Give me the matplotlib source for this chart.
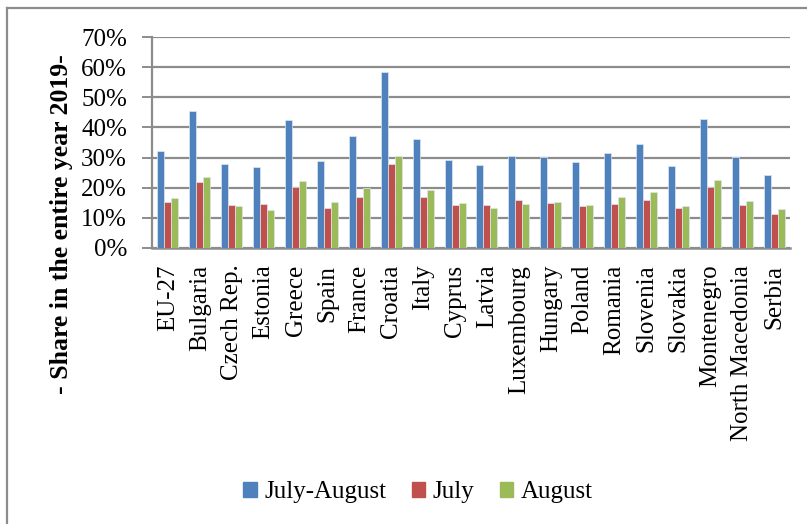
import numpy as np
import matplotlib
matplotlib.use("Agg")
import matplotlib.pyplot as plt
from matplotlib.lines import Line2D
from matplotlib.ticker import PercentFormatter

plt.rcParams['font.family'] = ['Liberation Serif', 'DejaVu Serif']

countries = ["EU-27", "Bulgaria", "Czech Rep.", "Estonia", "Greece", "Spain",
             "France", "Croatia", "Italy", "Cyprus", "Latvia", "Luxembourg",
             "Hungary", "Poland", "Romania", "Slovenia", "Slovakia",
             "Montenegro", "North Macedonia", "Serbia"]
july_august = [0.321, 0.455, 0.280, 0.270, 0.425, 0.288, 0.371, 0.583, 0.362,
               0.291, 0.277, 0.306, 0.301, 0.284, 0.316, 0.346, 0.271, 0.429,
               0.301, 0.241]
july = [0.153, 0.219, 0.142, 0.145, 0.204, 0.134, 0.170, 0.280, 0.170,
        0.144, 0.142, 0.158, 0.148, 0.140, 0.147, 0.160, 0.132, 0.202,
        0.144, 0.114]
august = [0.166, 0.236, 0.139, 0.126, 0.221, 0.153, 0.199, 0.304, 0.192,
          0.148, 0.134, 0.145, 0.153, 0.144, 0.168, 0.185, 0.138, 0.227,
          0.156, 0.128]
series = ["July-August", "July", "August"]
colors = ["#4F81BD", "#C0504D", "#9BBB59"]

W, H = 807, 524
fig = plt.figure(figsize=(W / 100, H / 100), dpi=100)
ax = fig.add_axes([152 / W, 1 - 248 / H, 638 / W, 211 / H])

x = np.arange(len(countries))
bw = 0.22
for k, (vals, c) in enumerate(zip([july_august, july, august], colors)):
    ax.bar(x + (k - 1) * bw, vals, bw, color=c, edgecolor="#dde6f0",
           linewidth=0.5, zorder=3)

ax.set_xlim(-0.5, len(countries) - 0.5)
ax.set_ylim(0, 0.7)
ax.set_yticks(np.arange(0, 0.71, 0.1))
ax.yaxis.set_major_formatter(PercentFormatter(1.0, decimals=0))
ax.grid(axis="y", color="#8c8c8c", linewidth=1.6, zorder=1)
ax.set_xticks(x)
ax.set_xticklabels(countries, rotation=90, fontsize=18)
ax.tick_params(axis="x", length=0, pad=12)
ax.tick_params(axis="y", length=7, width=1.4, color="#8c8c8c",
               labelsize=18, pad=11)
for s in ["top", "right"]:
    ax.spines[s].set_visible(False)
ax.spines["left"].set_color("#8c8c8c")
ax.spines["left"].set_linewidth(1.6)
ax.spines["bottom"].set_color("#8c8c8c")
ax.spines["bottom"].set_linewidth(1.8)

fig.text(62 / W, 1 - 224 / H, "- Share in the entire year 2019-",
         rotation=90, ha="center", va="center", fontsize=18.5,
         fontweight="bold")

handles = [plt.Rectangle((0, 0), 1, 1, color=c) for c in colors]
fig.legend(handles, series, loc="center", bbox_to_anchor=(418 / W, 1 - 492 / H),
           ncol=3, frameon=False, fontsize=18, handlelength=0.55,
           handleheight=0.55, handletextpad=0.3, columnspacing=1.0)

# outer chart frame (only left and top edges fall inside the picture)
fig.add_artist(Line2D([7 / W, 7 / W], [0, 1 - 8 / H], transform=fig.transFigure,
                      color="#8c8c8c", linewidth=1.6))
fig.add_artist(Line2D([7 / W, 1], [1 - 8 / H, 1 - 8 / H], transform=fig.transFigure,
                      color="#8c8c8c", linewidth=1.6))

fig.savefig("out.png", dpi=100)
